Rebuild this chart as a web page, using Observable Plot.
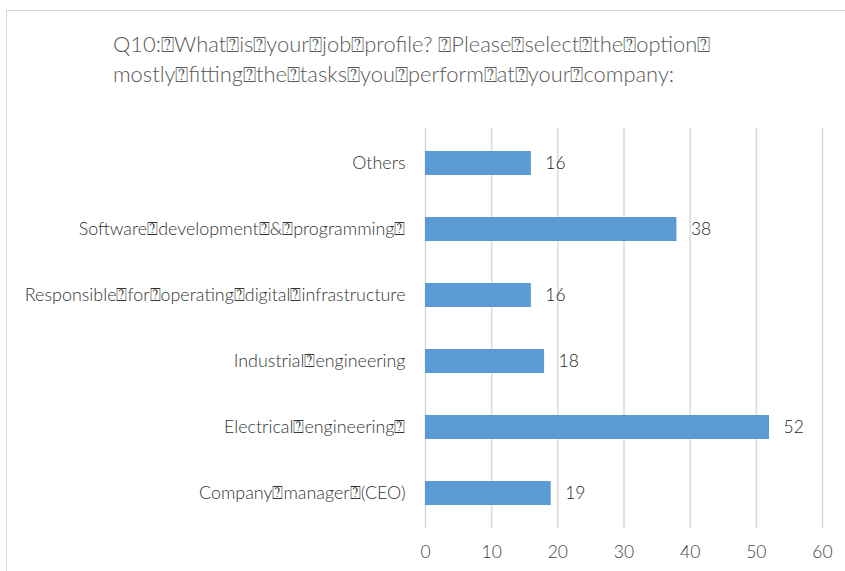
<!DOCTYPE html>
<html>
<head>
<meta charset="utf-8">
<script src="https://cdn.jsdelivr.net/npm/d3@7"></script>
<script src="https://cdn.jsdelivr.net/npm/@observablehq/plot@0.6"></script>
<style>
  body { margin: 0; background: #fff; }
  #wrap { position: relative; width: 845px; height: 571px; overflow: hidden; font-family: Lato, "DejaVu Sans", sans-serif; }
  #frame { position: absolute; left: 6px; top: 10px; width: 900px; height: 700px; border-left: 1.5px solid #d9d9d9; border-top: 1.5px solid #d9d9d9; }
  #title { position: absolute; left: 113px; top: 29px; font-size: 21.9px; font-weight: 300; color: #595959; line-height: 30px; white-space: pre; }
  #chart { position: absolute; left: 0; top: 0; }
</style>
</head>
<body>
<div id="wrap">
  <div id="frame"></div>
  <div id="title"></div>
  <div id="chart"></div>
</div>
<script>
// Survey question, as exported (unmapped characters show as ⍰)
const titleLines = [
  "Q10:⍰What⍰is⍰your⍰job⍰profile? ⍰Please⍰select⍰the⍰option⍰",
  "mostly⍰fitting⍰the⍰tasks⍰you⍰perform⍰at⍰your⍰company:"
];

// Answer options, top to bottom
const categories = [
  "Others",
  "Software⍰development⍰&⍰programming⍰",
  "Responsible⍰for⍰operating⍰digital⍰infrastructure",
  "Industrial⍰engineering",
  "Electrical⍰engineering⍰",
  "Company⍰manager⍰(CEO)"
];

// Number of respondents per option
const counts = [16, 38, 16, 18, 52, 19];

// Horizontal axis ticks
const xTicks = [0, 10, 20, 30, 40, 50, 60];

const data = categories.map((category, i) => ({category, count: counts[i]}));

document.getElementById("title").textContent = titleLines.join("\n");

const chart = Plot.plot({
  width: 845,
  height: 571,
  marginLeft: 425,
  marginRight: 23,
  marginTop: 128,
  marginBottom: 43,
  style: {fontFamily: "Lato, 'DejaVu Sans', sans-serif", background: "transparent"},
  x: {domain: [0, 60]},
  y: {domain: categories, paddingInner: 0.64, paddingOuter: 0.32},
  marks: [
    Plot.gridX(xTicks, {stroke: "#d9d9d9", strokeOpacity: 1, strokeWidth: 1.5}),
    Plot.barX(data, {x: "count", y: "category", fill: "#5b9bd5"}),
    Plot.text(data, {
      x: "count", y: "category", text: d => String(d.count),
      textAnchor: "start", dx: 14, fontSize: 17.5, fontWeight: 300, fill: "#262626"
    }),
    Plot.axisX(xTicks, {tickSize: 0, tickPadding: 17, fontSize: 17.5, fontWeight: 300, color: "#404040", label: null}),
    Plot.axisY({tickSize: 0, tickPadding: 20, fontSize: 17.9, fontWeight: 300, color: "#333333", label: null})
  ]
});

document.getElementById("chart").appendChild(chart);
</script>
</body>
</html>
